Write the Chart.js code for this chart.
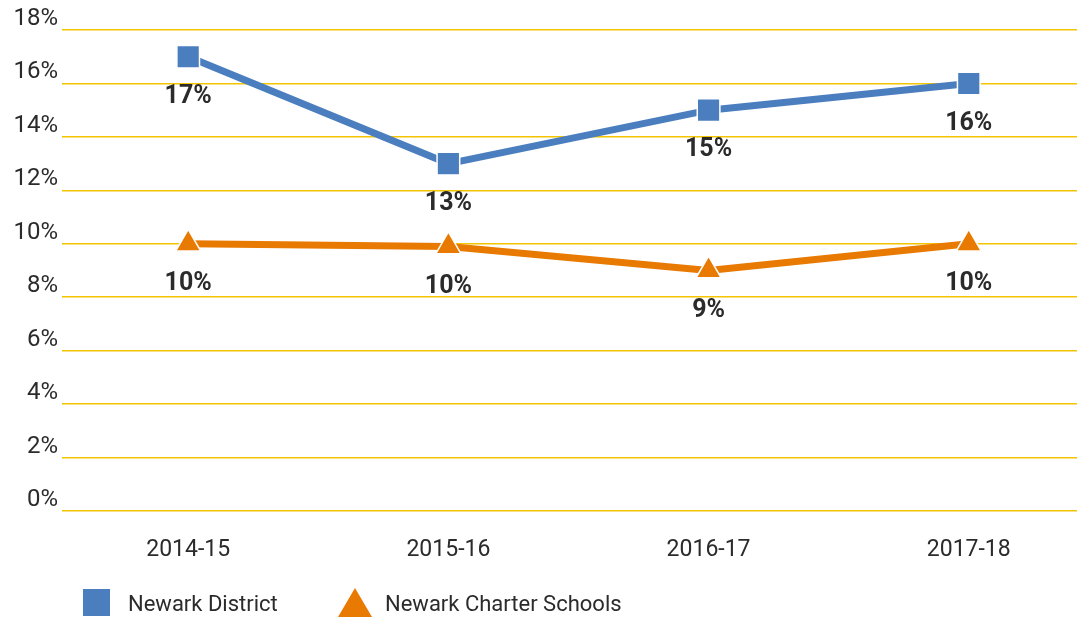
<!DOCTYPE html>
<html>
<head>
<meta charset="utf-8">
<script src="https://cdn.jsdelivr.net/npm/chart.js@4"></script>
<style>
    html, body { margin: 0; padding: 0; background: #fff; }
    #wrap { width: 1084px; height: 621px; position: relative; }
</style>
</head>
<body>
<div id="wrap"><canvas id="evoChart" width="1084" height="621"></canvas></div>
<script>
const seasons = ["2014-15", "2015-16", "2016-17", "2017-18"];
const districtRates = [17, 13, 15, 16];
const charterRates = [10, 9.9, 9, 10];
const yTicks = [0, 2, 4, 6, 8, 10, 12, 14, 16, 18];

const BLUE = "#4A7EBF";
const ORANGE = "#E87A02";
const GRID = "#F3C400";
const TEXT = "#2B2B2B";
const FONT = "Roboto, 'DejaVu Sans', sans-serif";

// étiquettes de valeurs sous chaque point
const valueLabels = {
    id: "valueLabels",
    afterDatasetsDraw(chart) {
        const ctx = chart.ctx;
        ctx.save();
        ctx.font = `bold 25px ${FONT}`;
        ctx.fillStyle = TEXT;
        ctx.textAlign = "center";
        ctx.textBaseline = "middle";
        chart.data.datasets.forEach((ds, i) => {
            chart.getDatasetMeta(i).data.forEach((pt, j) => {
                ctx.fillText(Math.round(ds.data[j].y) + "%", pt.x, pt.y + 40);
            });
        });
        ctx.restore();
    }
};

// légende dessinée à la main
const bottomLegend = {
    id: "bottomLegend",
    afterDraw(chart) {
        const ctx = chart.ctx;
        ctx.save();
        ctx.fillStyle = BLUE;
        ctx.fillRect(83, 589, 27, 27);
        ctx.fillStyle = ORANGE;
        ctx.beginPath();
        ctx.moveTo(355, 588);
        ctx.lineTo(372, 617);
        ctx.lineTo(338, 617);
        ctx.closePath();
        ctx.fill();
        ctx.font = `22px ${FONT}`;
        ctx.fillStyle = TEXT;
        ctx.textBaseline = "middle";
        ctx.fillText("Newark District", 128, 605);
        ctx.fillText("Newark Charter Schools", 385, 605);
        ctx.restore();
    }
};

const toPoints = arr => arr.map((v, i) => ({x: i, y: v}));

const ctx = document.getElementById("evoChart").getContext("2d");
new Chart(ctx, {
    type: "line",
    data: {
        datasets: [
            {
                label: "Newark District",
                data: toPoints(districtRates),
                borderColor: BLUE,
                backgroundColor: BLUE,
                borderWidth: 7,
                pointStyle: "rect",
                pointRadius: 16,
                pointBorderColor: "#fff",
                pointBorderWidth: 1.5,
                pointBackgroundColor: BLUE
            },
            {
                label: "Newark Charter Schools",
                data: toPoints(charterRates),
                borderColor: ORANGE,
                backgroundColor: ORANGE,
                borderWidth: 7,
                pointStyle: "triangle",
                pointRadius: 14.5,
                pointBorderColor: "#fff",
                pointBorderWidth: 1.5,
                pointBackgroundColor: ORANGE
            }
        ]
    },
    options: {
        responsive: false,
        animation: false,
        layout: { autoPadding: false, padding: { top: 30, right: 7, left: 0, bottom: 0 } },
        plugins: {
            legend: { display: false },
            tooltip: { enabled: false }
        },
        scales: {
            x: {
                type: "linear",
                min: -0.485,
                max: 3.416,
                afterBuildTicks: axis => { axis.ticks = seasons.map((s, i) => ({value: i})); },
                afterFit: axis => {
                    axis.height = 110;
                    axis.paddingLeft = 0;
                    axis.paddingRight = 0;
                },
                grid: { display: false, drawTicks: false },
                border: { display: false },
                ticks: {
                    padding: 25,
                    color: TEXT,
                    font: { family: FONT, size: 23 },
                    callback: v => seasons[v]
                }
            },
            y: {
                min: 0,
                max: 18,
                afterBuildTicks: axis => { axis.ticks = yTicks.map(v => ({value: v})); },
                afterFit: axis => { axis.width = 62; },
                grid: { color: GRID, lineWidth: 1.5, drawTicks: false },
                border: { display: false },
                ticks: {
                    padding: 4,
                    labelOffset: -11,
                    color: TEXT,
                    font: { family: FONT, size: 24 },
                    callback: v => v + "%"
                }
            }
        }
    },
    plugins: [valueLabels, bottomLegend]
});
</script>
</body>
</html>
